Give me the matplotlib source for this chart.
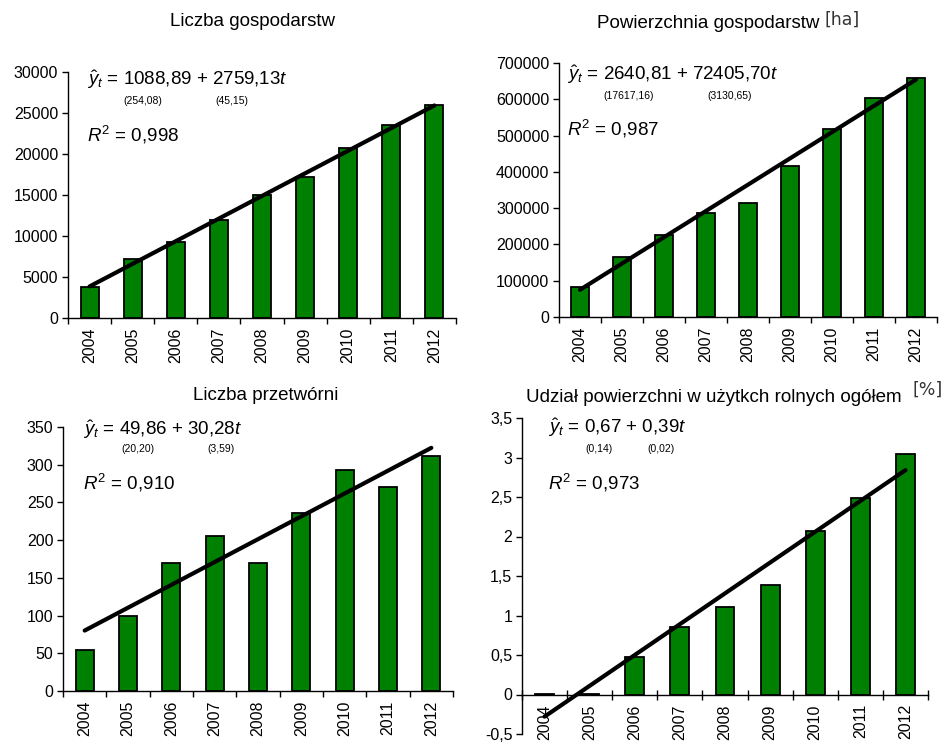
"""Four bar charts with linear trend lines (organic farming 2004-2012)."""

import numpy as np
import matplotlib
matplotlib.use("Agg")
import matplotlib.pyplot as plt
from matplotlib.ticker import FuncFormatter, FixedLocator

plt.rcParams['font.family'] = ['Liberation Sans', 'DejaVu Sans']
plt.rcParams['mathtext.fontset'] = 'custom'
plt.rcParams['mathtext.rm'] = 'Liberation Sans'
plt.rcParams['mathtext.it'] = 'Liberation Sans:italic'

# data
years = ['2004', '2005', '2006', '2007', '2008', '2009', '2010', '2011', '2012']
farms_count = [3770, 7200, 9240, 11960, 15000, 17190, 20700, 23550, 26000]
farms_area = [82700, 165000, 227000, 287500, 314000, 416000, 519000, 604000, 660000]
plants_count = [55, 100, 170, 206, 170, 236, 293, 270, 312]
area_share = [0.01, 0.01, 0.47, 0.85, 1.11, 1.38, 2.07, 2.49, 3.05]

trend_intercept = [1088.89, 2640.81, 49.86, -0.67]
trend_slope = [2759.13, 72405.70, 30.28, 0.39]

titles = ['Liczba gospodarstw', 'Powierzchnia gospodarstw', 'Liczba przetwórni',
          'Udział powierzchni w użytkch rolnych ogółem']
title_units = ['', '[ha]', '', '[%]']
eq_main = [r'$\hat{y}_t$ = 1088,89 + 2759,13$t$', r'$\hat{y}_t$ = 2640,81 + 72405,70$t$',
           r'$\hat{y}_t$ = 49,86 + 30,28$t$', r'$\hat{y}_t$ = 0,67 + 0,39$t$']
eq_se = [('(254,08)', '(45,15)'), ('(17617,16)', '(3130,65)'),
         ('(20,20)', '(3,59)'), ('(0,14)', '(0,02)')]
r2_text = [r'$R^{\rm 2}$ = 0,998', r'$R^{\rm 2}$ = 0,987',
           r'$R^{\rm 2}$ = 0,910', r'$R^{\rm 2}$ = 0,973']
y_ticks = [np.arange(0, 30001, 5000), np.arange(0, 700001, 100000),
           np.arange(0, 351, 50), np.arange(-0.5, 3.51, 0.5)]

W, H = 942, 743
fig = plt.figure(figsize=(W / 100, H / 100), dpi=100)

# axes rectangles in pixels: left, right, top, bottom
boxes = [(68, 456, 72, 318), (559, 937, 63, 317), (63, 453, 427, 691), (522, 928, 418, 734)]
title_pos = [(253, 22), (708, 23), (266, 395), (714, 398)]
unit_pos = [None, (825, 20), None, (912, 390)]
eq_pos = [(87, 80, 143, 232, 101, 135), (567, 75, 629, 730, 96, 129),
          (83, 430, 138, 221, 449, 483), (548, 428, 599, 661, 449, 483)]

series = [farms_count, farms_area, plants_count, area_share]


def fx(px):
    return px / W


def fy(py):
    return 1 - py / H


def comma_fmt(v, pos):
    return f'{v:g}'.replace('.', ',')


x = np.arange(1, len(years) + 1)

for i, vals in enumerate(series):
    l, r, t, b = boxes[i]
    ax = fig.add_axes([fx(l), fy(b), (r - l) / W, (b - t) / H])
    ax.bar(x, vals, width=0.42, color='#008000', edgecolor='black', linewidth=1.3, zorder=2)
    trend = trend_intercept[i] + trend_slope[i] * x
    ax.plot([x[0], x[-1]], [trend[0], trend[-1]], color='black', linewidth=3,
            solid_capstyle='round', zorder=3)

    ticks = y_ticks[i]
    ax.set_xlim(0.5, len(years) + 0.5)
    ax.set_ylim(ticks[0], ticks[-1])
    ax.set_yticks(ticks)
    ax.yaxis.set_major_formatter(FuncFormatter(comma_fmt))

    for s in ['top', 'right']:
        ax.spines[s].set_visible(False)
    if ticks[0] < 0:
        ax.spines['bottom'].set_position(('data', 0))
    ax.spines['left'].set_linewidth(1.0)
    ax.spines['bottom'].set_linewidth(1.0)

    # boundary ticks on x, labels centred under the bars
    ax.xaxis.set_major_locator(FixedLocator(np.arange(0.5, len(years) + 1, 1)))
    ax.xaxis.set_minor_locator(FixedLocator(x))
    ax.set_xticklabels([], minor=False)
    ax.set_xticklabels(years, minor=True, rotation=90, fontsize=11.5)
    ax.tick_params(axis='x', which='major', direction='inout' if ticks[0] < 0 else 'out',
                   length=7 if ticks[0] < 0 else 4, width=1)
    ax.tick_params(axis='x', which='minor', length=0, pad=7)
    ax.tick_params(axis='y', direction='out', length=4, width=1, pad=3, labelsize=11.5)
    ax.patch.set_alpha(0)

    tx, ty = title_pos[i]
    fig.text(fx(tx), fy(ty), titles[i], ha='center', va='center', fontsize=13.5)
    if unit_pos[i] is not None:
        ux, uy = unit_pos[i]
        fig.text(fx(ux), fy(uy), title_units[i], ha='left', va='center', fontsize=12.5,
                 family='DejaVu Sans', color='#333333')

    ex, ey, s1x, s2x, sy, ry = eq_pos[i]
    fig.text(fx(ex), fy(ey), eq_main[i], ha='left', va='center', fontsize=13.5)
    fig.text(fx(s1x), fy(sy), eq_se[i][0], ha='center', va='center', fontsize=7.5)
    fig.text(fx(s2x), fy(sy), eq_se[i][1], ha='center', va='center', fontsize=7.5)
    fig.text(fx(ex), fy(ry), r2_text[i], ha='left', va='center', fontsize=13.5)

fig.savefig('out.png', dpi=100)
plt.close(fig)
